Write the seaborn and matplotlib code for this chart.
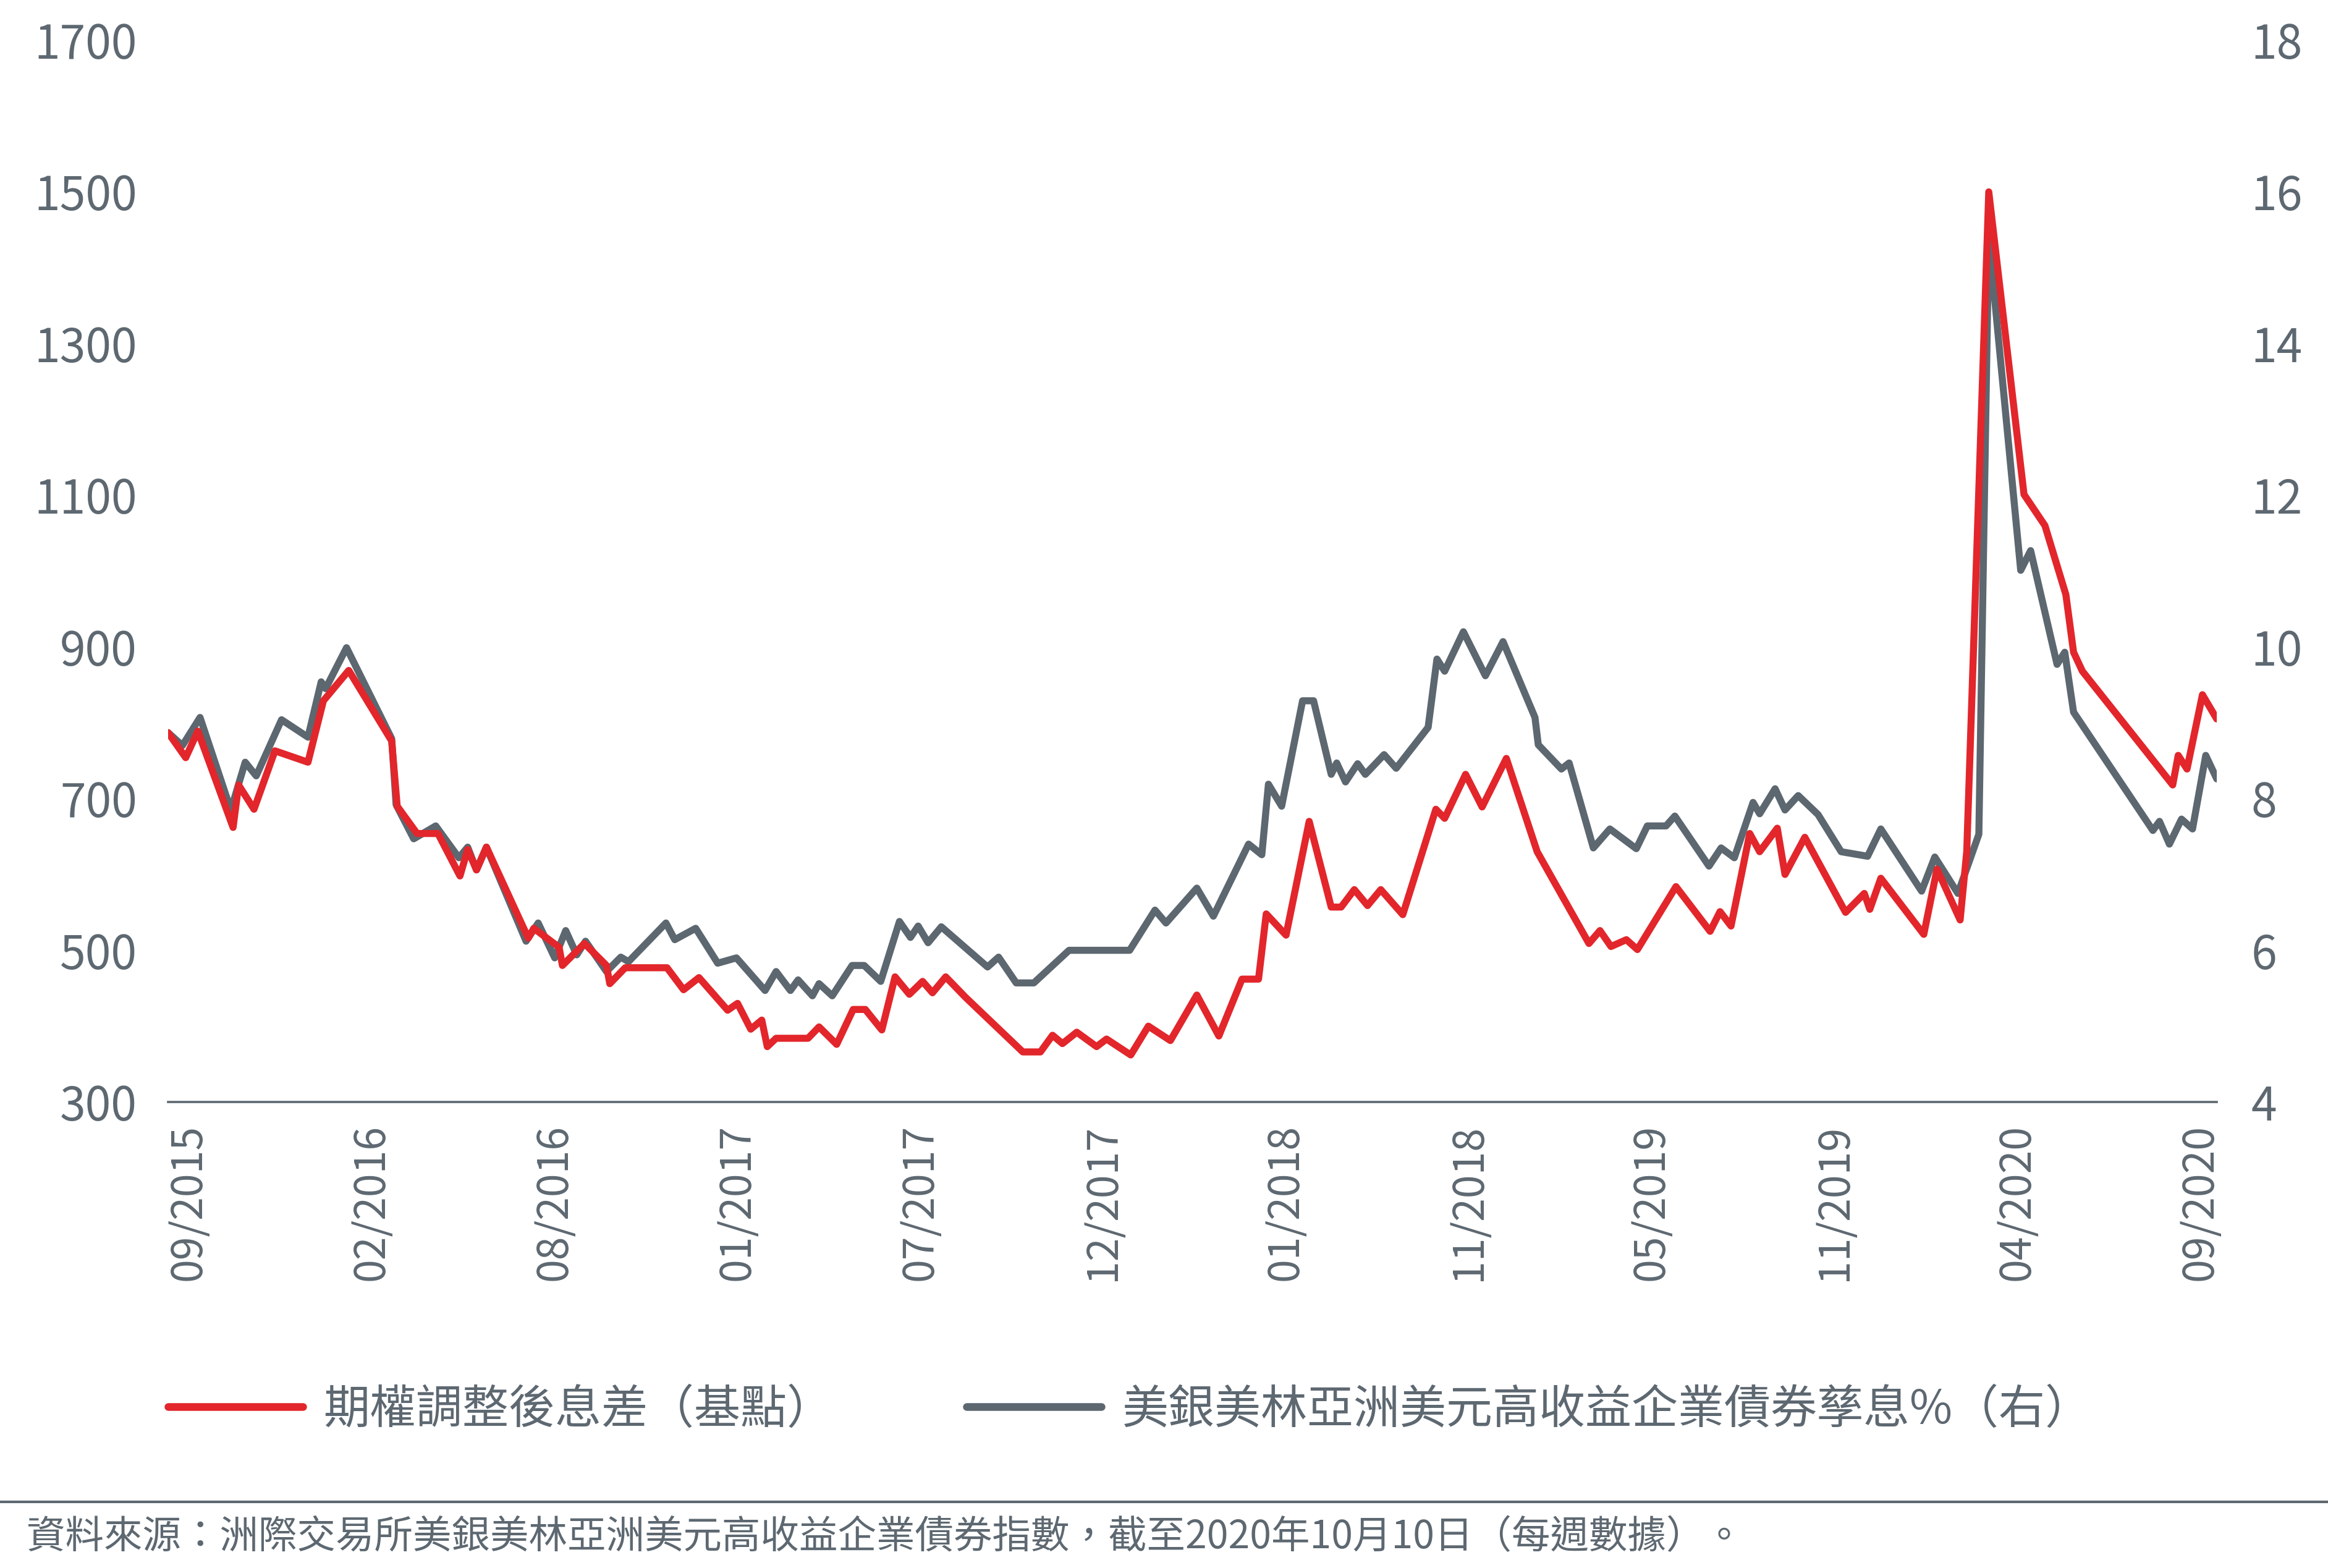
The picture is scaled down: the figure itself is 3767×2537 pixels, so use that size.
import numpy as np
import matplotlib
matplotlib.use("Agg")
import matplotlib.pyplot as plt
from matplotlib.lines import Line2D
import seaborn as sns

sns.set_theme(style="white")
plt.rcParams['font.family'] = ['Noto Sans CJK TC', 'DejaVu Sans']

RED = "#E2262B"
GRAY = "#5C6770"
TXT = "#5D6871"

# ---------------- data ----------------
x_labels = ["09/2015", "02/2016", "08/2016", "01/2017", "07/2017", "12/2017",
            "01/2018", "11/2018", "05/2019", "11/2019", "04/2020", "09/2020"]
left_ticks = [300, 500, 700, 900, 1100, 1300, 1500, 1700]
right_ticks = [4, 6, 8, 10, 12, 14, 16, 18]

series_red_name = "期權調整後息差（基點）"
series_gray_name = "美銀美林亞洲美元高收益企業債券孳息%（右）"
source_text = "資料來源：洲際交易所美銀美林亞洲美元高收益企業債券指數，截至2020年10月10日（每週數據）。"

# day offsets from the first observation (weekly data, Aug-2015 .. Oct-2020)
oas_day = [0, 16, 27, 59, 64, 78, 97, 127, 141, 164, 203, 208, 226, 245, 265, 272,
           280, 289, 327, 332, 355, 358, 378, 398, 401, 415, 453, 468, 482, 508, 517,
           529, 539, 544, 552, 581, 591, 607, 622, 633, 648, 660, 673, 685, 694, 706,
           724, 776, 792, 803, 812, 825, 843, 852, 874, 890, 910, 934, 954, 975, 990,
           997, 1015, 1036, 1056, 1065, 1077, 1089, 1101, 1121, 1151, 1159, 1178, 1193,
           1215, 1243, 1290, 1300, 1310, 1324, 1334, 1369, 1400, 1409, 1419, 1436, 1445,
           1461, 1468, 1486, 1523, 1540, 1545, 1555, 1594, 1606, 1627, 1633, 1653, 1685,
           1704, 1723, 1730, 1738, 1820, 1825, 1833, 1847, 1860]
oas_bps = [787, 754, 789, 662, 718, 686, 763, 748, 829, 869, 776, 690, 654, 654, 598, 633,
           606, 636, 516, 529, 504, 480, 509, 480, 456, 477, 477, 448, 464, 421, 430,
           396, 408, 373, 384, 384, 399, 376, 422, 422, 395, 465, 442, 459, 444, 465,
           438, 366, 366, 388, 377, 392, 373, 383, 362, 400, 381, 441, 387, 462, 462,
           548, 520, 670, 557, 557, 580, 559, 580, 547, 686, 674, 732, 689,
           753, 630, 509, 526, 505, 514, 501, 584, 525, 551, 532, 654, 630,
           661, 600, 649, 550, 575, 554, 595, 521, 607, 540, 630, 1500, 1101,
           1060, 969, 893, 868, 718, 757, 739, 837, 805]

yld_day = [0, 13, 29, 57, 70, 80, 103, 127, 139, 143, 162, 203, 207, 223, 243, 264, 272,
           280, 289, 325, 336, 351, 361, 371, 379, 398, 411, 418, 452, 460, 479, 499, 516,
           542, 552, 565, 572, 585, 591, 603, 621, 632, 647, 664, 674, 681, 690, 702, 744,
           754, 770, 786, 818, 873, 896, 906, 934, 949, 981, 993, 999, 1011, 1030, 1040,
           1056, 1061, 1069, 1080, 1087, 1104, 1115, 1144, 1152, 1159, 1176, 1196, 1212,
           1241, 1244, 1265, 1272, 1294, 1309, 1333, 1343, 1360, 1368, 1399, 1410, 1422,
           1439, 1445, 1459, 1468, 1480, 1498, 1519, 1543, 1555, 1592, 1604, 1625, 1644,
           1653, 1682, 1691, 1715, 1722, 1730, 1802, 1808, 1817, 1828, 1838, 1850, 1860]
yld_pct = [8.87, 8.70, 9.07, 7.85, 8.48, 8.30, 9.04, 8.81, 9.54, 9.45, 9.99, 8.79, 7.92,
           7.47, 7.64, 7.22, 7.36, 7.06, 7.36, 6.12, 6.36, 5.90, 6.26, 5.94, 6.12, 5.72,
           5.91, 5.85, 6.36, 6.14, 6.29, 5.83, 5.90, 5.47, 5.72, 5.47, 5.61, 5.40, 5.56,
           5.40, 5.80, 5.80, 5.59, 6.38, 6.17, 6.32, 6.10, 6.31, 5.78, 5.91, 5.57, 5.57,
           6.00, 6.00, 6.53, 6.36, 6.82, 6.45, 7.40, 7.26, 8.19, 7.90, 9.29, 9.29, 8.32,
           8.47, 8.22, 8.46, 8.32, 8.58, 8.40, 8.94, 9.84, 9.68, 10.20, 9.62, 10.07, 9.07,
           8.71, 8.39, 8.47, 7.35, 7.60, 7.34, 7.64, 7.64, 7.77, 7.11, 7.35, 7.22, 7.95,
           7.80, 8.13, 7.85, 8.04, 7.79, 7.30, 7.24, 7.60, 6.78, 7.23, 6.75, 7.53, 15.40,
           11.01, 11.27, 9.77, 9.93, 9.14, 7.58, 7.70, 7.40, 7.73, 7.60, 8.57, 8.26]

# ---------------- figure ----------------
W, H = 3767, 2537
fig = plt.figure(figsize=(W / 100, H / 100), dpi=100)
fig.patch.set_facecolor("white")
ax = fig.add_axes([272 / W, 754 / H, (3587 - 272) / W, (2472 - 754) / H])
ax2 = ax.twinx()

LW = 8.2
sns.lineplot(x=yld_day, y=yld_pct, ax=ax2, color=GRAY, linewidth=LW, estimator=None,
             legend=False, solid_joinstyle="round", solid_capstyle="round")
sns.lineplot(x=oas_day, y=oas_bps, ax=ax, color=RED, linewidth=LW, estimator=None,
             legend=False, solid_joinstyle="round", solid_capstyle="round")

ax.set_zorder(ax2.get_zorder() + 1)
ax.patch.set_visible(False)

ax.set_xlim(0, 1860)
ax.set_ylim(300, 1700)
ax2.set_ylim(4, 18)
ax.set_yticks(left_ticks)
ax.set_yticklabels([str(t) for t in left_ticks])
ax2.set_yticks(right_ticks)
ax2.set_yticklabels([str(t) for t in right_ticks])
ax.set_xticks(np.linspace(19, 1845, len(x_labels)))
ax.set_xticklabels(x_labels, rotation=90)
ax.set_xlabel("")
ax.set_ylabel("")
ax2.set_ylabel("")

FS = 54
ax.tick_params(axis="x", length=0, pad=26, labelsize=49, colors=TXT)
ax.tick_params(axis="y", length=0, pad=36, labelsize=FS, colors=TXT)
ax2.tick_params(axis="y", length=0, pad=40, labelsize=FS, colors=TXT)
ax.grid(False)
ax2.grid(False)

for s in ["top", "left", "right"]:
    ax.spines[s].set_visible(False)
for s in ax2.spines.values():
    s.set_visible(False)
ax.spines["bottom"].set_color(GRAY)
ax.spines["bottom"].set_linewidth(2.6)

# legend
handles = [Line2D([], [], color=RED, lw=9, solid_capstyle="round"),
           Line2D([], [], color=GRAY, lw=9, solid_capstyle="round")]
fig.legend(handles, [series_red_name, series_gray_name], loc="center left",
           bbox_to_anchor=(272 / W, 1 - 2281 / H), ncol=2, frameon=False,
           fontsize=54, handlelength=2.9, handletextpad=0.45, columnspacing=2.88,
           borderpad=0, borderaxespad=0, labelcolor=TXT)

# separator and source
fig.add_artist(Line2D([0, 1], [1 - 2430 / H, 1 - 2430 / H], transform=fig.transFigure,
                      color=GRAY, lw=3))
fig.text(43 / W, 1 - 2487 / H, source_text, fontsize=45, color=TXT, ha="left", va="center")

fig.savefig("out.png", dpi=100, facecolor="white")
